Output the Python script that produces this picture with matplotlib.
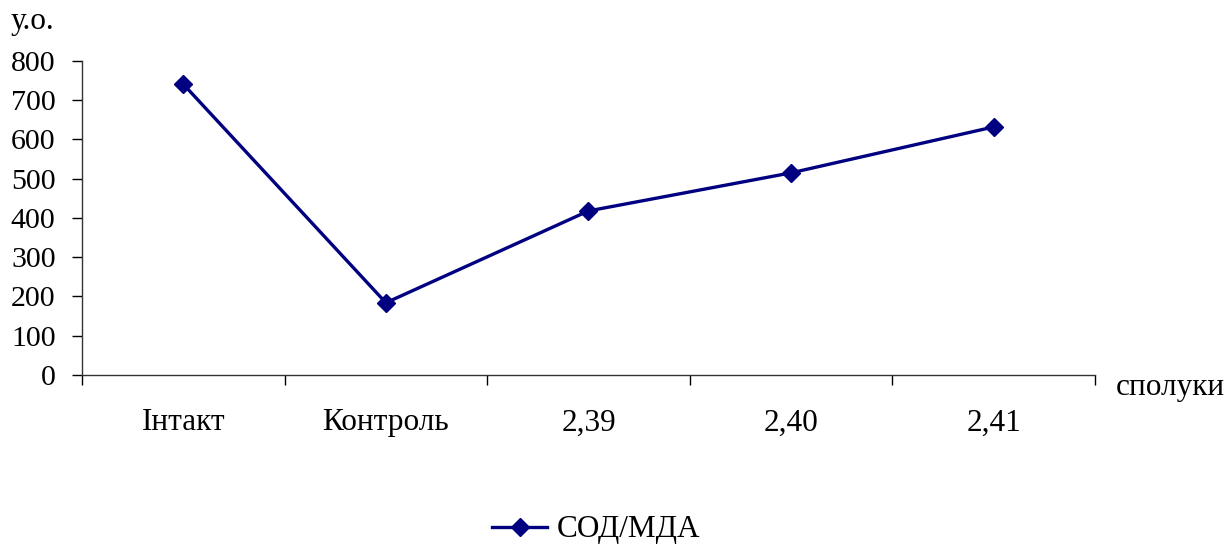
import numpy as np
import matplotlib.pyplot as plt
from matplotlib.ticker import FixedLocator

plt.rcParams["font.family"] = ["Liberation Serif", "DejaVu Serif"]

# data
categories = ["Інтакт", "Контроль", "2,39", "2,40", "2,41"]
sod_mda = [741, 184, 418, 515, 632]
y_ticks = [0, 100, 200, 300, 400, 500, 600, 700, 800]

fs = 22.5

fig = plt.figure(figsize=(12.31, 5.48), dpi=100)
ax = fig.add_axes([0.0666, 0.3157, 0.8229, 0.573])

x = np.arange(len(categories))
line, = ax.plot(x, sod_mda, color="#000080", linewidth=2.4, marker="D",
                markersize=9, label="СОД/МДА")

ax.set_xlim(-0.5, len(categories) - 0.5)
ax.set_ylim(0, 800)
ax.set_yticks(y_ticks)
ax.tick_params(axis="y", labelsize=21.5, length=7, width=1, pad=12, direction="out")

# ticks on category boundaries, labels in the middle
ax.xaxis.set_major_locator(FixedLocator(np.arange(len(categories) + 1) - 0.5))
ax.xaxis.set_major_formatter(plt.NullFormatter())
ax.xaxis.set_minor_locator(FixedLocator(x))
ax.set_xticklabels(categories, minor=True)
ax.tick_params(axis="x", which="major", length=7, width=1, direction="out")
ax.tick_params(axis="x", which="minor", length=0, labelsize=fs, pad=24)

for side in ["top", "right"]:
    ax.spines[side].set_visible(False)
for side in ["left", "bottom"]:
    ax.spines[side].set_linewidth(1)
    ax.spines[side].set_color("#333333")

fig.text(11 / 1231, 1 - 22 / 548, "у.о.", fontsize=fs, va="center", ha="left")
fig.text(1116 / 1231, 1 - 387 / 548, "сполуки", fontsize=fs, va="center", ha="left")

fig.legend(handles=[line], loc="center", bbox_to_anchor=(596 / 1231, 1 - 530 / 548),
           frameon=False, fontsize=fs, handlelength=1.76, handletextpad=0.3,
           borderpad=0, borderaxespad=0)

fig.savefig("out.png", dpi=100)
